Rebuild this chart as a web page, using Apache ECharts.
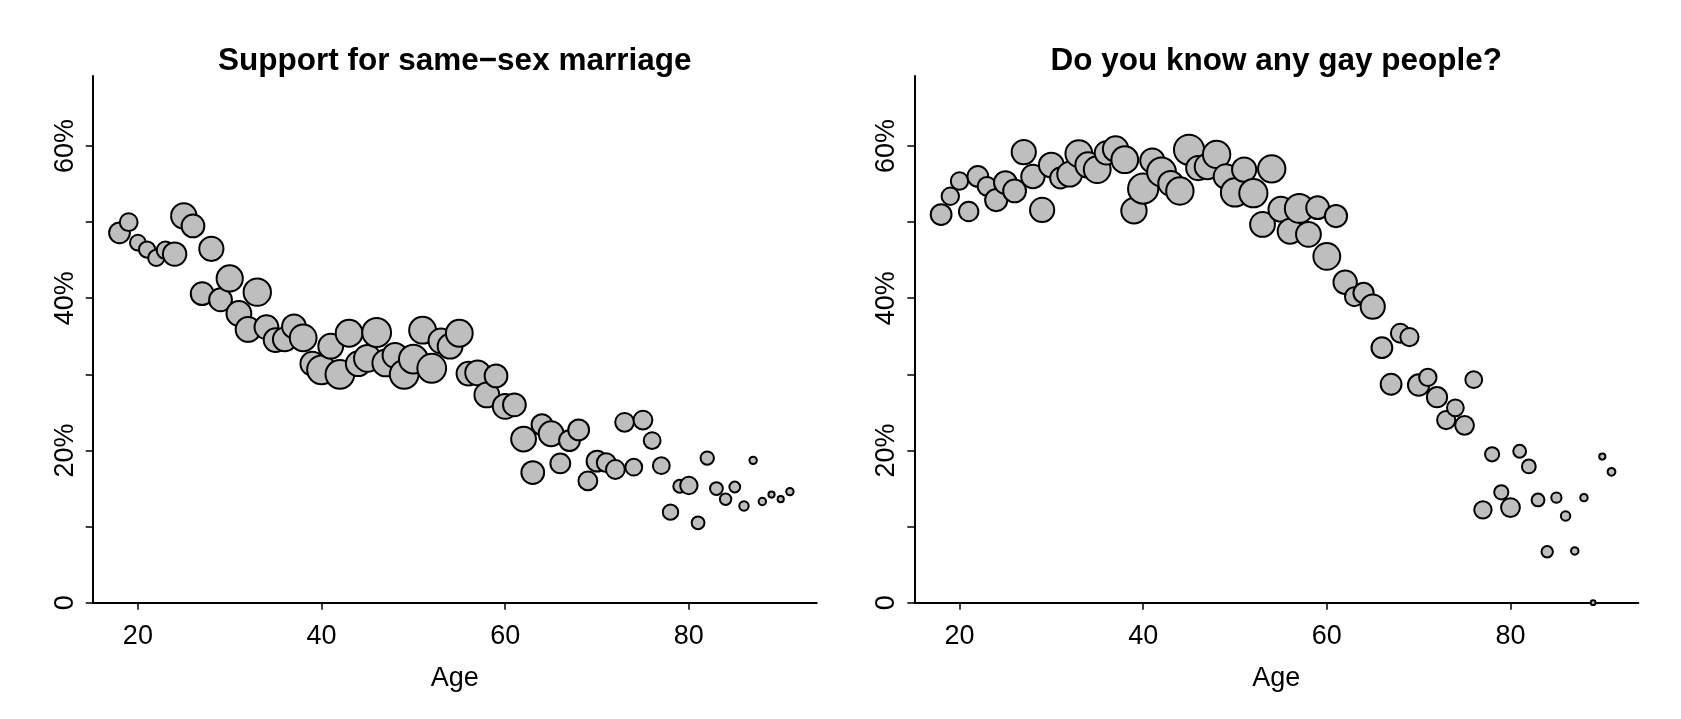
<!DOCTYPE html>
<html>
<head>
<meta charset="utf-8">
<script src="https://cdn.jsdelivr.net/npm/echarts@6/dist/echarts.min.js"></script>
<style>
html,body{margin:0;padding:0;background:#ffffff;}
#chart{width:1681px;height:719px;}
</style>
</head>
<body>
<div id="chart"></div>
<script>
// ---- data ----
const titles = ['Support for same\u2212sex marriage', 'Do you know any gay people?'];
const ages = [18,19,20,21,22,23,24,25,26,27,28,29,30,31,32,33,34,35,36,37,38,39,40,41,42,43,44,45,46,47,48,49,50,51,52,53,54,55,56,57,58,59,60,61,62,63,64,65,66,67,68,69,70,71,72,73,74,75,76,77,78,79,80,81,82,83,84,85,86,87,88,89,90,91];
// percent supporting same-sex marriage, by age
const supportPct = [48.6,50.0,47.3,46.4,45.3,46.3,45.8,50.8,49.5,40.6,46.5,39.8,42.6,38.0,35.9,40.8,36.2,34.5,34.6,36.3,34.8,31.4,30.6,33.7,30.0,35.4,31.4,32.1,35.5,31.5,32.5,30.0,32.0,35.8,30.8,34.4,33.7,35.4,30.1,30.2,27.3,29.8,25.8,26.0,21.5,17.1,23.4,22.2,18.3,21.3,22.7,16.0,18.6,18.4,17.5,23.7,17.8,24.0,21.3,18.0,11.9,15.3,15.4,10.5,19.0,15.0,13.6,15.2,12.7,18.7,13.3,14.2,13.6,14.6];
// relative sample weight (bubble scale) for each age
const supportWeight = [11,9.5,8.5,8.7,8.7,9.3,12.3,13.3,12,12,12.7,12,13.7,13,13,14.3,12.5,12.5,12.5,12.5,14,12.5,15,13,15,14,13,14,15,14,13,15,15,14,15,13,13,14,12.5,13,13,12,13,12,13,12,11,13,10.5,11,11,10,11,10,10,10,9,10,9,9,8.3,7,9.3,7,7.3,7,6.3,6,5.3,4.3,4.3,3.7,3.7,4.3];
// percent who know any gay people, by age
const knowPct = [51.0,53.4,55.4,51.4,56.0,54.7,52.9,55.2,54.1,59.2,56.0,51.6,57.5,55.8,56.3,59.0,57.5,56.9,59.1,59.6,58.2,51.5,54.4,58.1,56.6,55.1,54.1,59.5,57.1,57.3,58.9,56.0,53.9,56.9,53.8,49.7,57.0,51.7,48.8,51.8,48.4,51.9,45.5,50.8,42.1,40.2,40.7,38.9,33.5,28.7,35.4,34.9,28.6,29.6,27.0,24.0,25.6,23.3,29.3,12.2,19.5,14.5,12.5,19.9,17.9,13.5,6.7,13.8,11.4,6.8,13.8,0,19.2,17.2];
const knowWeight = [11,9.3,9.3,10.3,11,10,11.7,12,12,12.7,12.3,12.7,13,11,13,14,13.3,14,12.3,13.3,14,13.3,15.7,12.7,15,13,14.3,15.7,12.7,13.3,14.3,12.7,14.7,12.7,14.7,13,14.3,13,13,15,13,12,14,11.7,12.3,10,10.7,12.7,11,11,10,9.7,11.3,9.3,10.7,9.7,9,10,9,9.3,7.7,7.7,10,7,7.5,7,6.3,5.7,5.3,4.3,4.3,3,3.7,4.5];
const xTickValues = [20,40,60,80];
const yTickValues = [0,10,20,30,40,50,60];
const yLabelValues = [0,20,40,60];
const xName = 'Age';

// ---- chart ----
const FONT = 'Liberation Sans, Arial, Helvetica, sans-serif';
const panels = [
  {left: 92.7, pct: supportPct, w: supportWeight},
  {left: 914.3, pct: knowPct, w: knowWeight}
];
const gridTop = 76, gridH = 526.7, gridW = 724;

const option = {
  animation: false,
  backgroundColor: '#ffffff',
  title: panels.map((p, i) => ({
    text: titles[i],
    left: p.left + gridW / 2,
    top: 45,
    padding: 0,
    textAlign: 'center',
    textStyle: {fontFamily: FONT, fontSize: 31.5, fontWeight: 'bold', color: '#000'}
  })),
  grid: panels.map(p => ({left: p.left, top: gridTop, width: gridW, height: gridH, containLabel: false})),
  xAxis: panels.map((p, i) => ({
    type: 'value', gridIndex: i, min: 15.08, max: 93.92,
    splitLine: {show: false},
    axisLine: {show: true, onZero: false, lineStyle: {color: '#000', width: 2}},
    axisTick: {show: true, customValues: xTickValues, length: 7, lineStyle: {color: '#000', width: 1.5}},
    axisLabel: {show: true, customValues: xTickValues, margin: 20, color: '#000', fontFamily: FONT, fontSize: 27},
    name: xName, nameLocation: 'middle', nameGap: 62,
    nameTextStyle: {color: '#000', fontFamily: FONT, fontSize: 27}
  })),
  yAxis: panels.map((p, i) => ({
    type: 'value', gridIndex: i, min: 0, max: 69.2,
    splitLine: {show: false},
    axisLine: {show: true, onZero: false, lineStyle: {color: '#000', width: 2}},
    axisTick: {show: true, customValues: yTickValues, length: 7, lineStyle: {color: '#000', width: 1.5}},
    axisLabel: {show: true, customValues: yLabelValues, rotate: 90, margin: 14, color: '#000', fontFamily: FONT, fontSize: 27,
      formatter: v => (v === 0 ? '0' : v + '%')}
  })),
  series: panels.map((p, i) => ({
    type: 'scatter', xAxisIndex: i, yAxisIndex: i,
    data: ages.map((a, k) => [a, p.pct[k], p.w[k]]),
    symbol: 'circle',
    symbolSize: d => Math.max(2 * d[2] - 1.2, 2),
    itemStyle: {color: '#bebebe', borderColor: '#000', borderWidth: 2, opacity: 1},
    emphasis: {disabled: true},
    clip: false
  }))
};
const chart = echarts.init(document.getElementById('chart'), null, {renderer: 'canvas'});
chart.setOption(option);
</script>
</body>
</html>
